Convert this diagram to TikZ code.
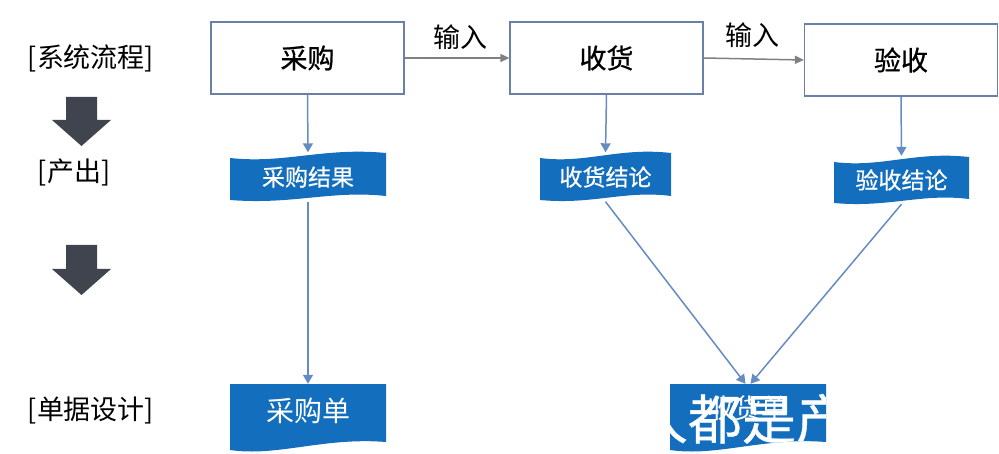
\documentclass[tikz,border=0pt]{standalone}
\usepackage{fontspec}
\setmainfont{Noto Sans CJK SC}
\usetikzlibrary{arrows.meta}
\definecolor{bannerblue}{RGB}{20,110,190}
\definecolor{boxline}{RGB}{105,128,168}
\definecolor{flowgray}{RGB}{128,128,128}
\definecolor{linkblue}{RGB}{100,140,195}
\definecolor{blockdark}{RGB}{64,68,78}
\newcommand\tapefill[4]{%
  \fill[bannerblue] (#1,#2+6) .. controls ({#1+0.35*(#3-#1)},#2+12) and ({#1+0.6*(#3-#1)},#2-5) .. (#3,#2+1)
    -- (#3,#4-5) .. controls ({#3-0.35*(#3-#1)},#4-11) and ({#3-0.6*(#3-#1)},#4+4) .. (#1,#4-1) -- cycle;}
\newcommand\docpath[4]{(#1,#2) -- (#3,#2) -- (#3,#4-9) .. controls ({#1+0.6*(#3-#1)},#4-14) and ({#1+0.3*(#3-#1)},#4+6) .. (#1,#4-1) -- cycle}
\tikzset{
  procbox/.style={draw=boxline, line width=1.2pt, fill=white, minimum width=193pt, minimum height=72pt, inner sep=0pt, font=\fontsize{27}{30}\selectfont\addfontfeature{FakeBold=0.8}},
  sidelabel/.style={inner sep=0pt, text=black, font=\fontsize{27}{30}\selectfont},
  inlabel/.style={inner sep=0pt, text=black, font=\fontsize{27}{30}\selectfont},
  bannertext/.style={inner sep=0pt, text=white, font=\fontsize{23}{26}\selectfont\addfontfeature{FakeBold=0.6}},
  doctext/.style={inner sep=0pt, text=white, font=\fontsize{28}{30}\selectfont},
  grayarrow/.style={draw=flowgray, line width=1.5pt, -{Triangle[width=8pt,length=9pt]}},
  bluearrow/.style={draw=linkblue, line width=1.5pt, -{Triangle[width=10pt,length=9pt]}},
  blockarrow/.style={fill=blockdark}
}
\begin{document}
\begin{tikzpicture}[x=1pt,y=-1pt]
\useasboundingbox (0,0) rectangle (999,454);

% left column
\node[sidelabel] (l1) at (91,58) {[系统流程]};
\node[sidelabel] (l2) at (74,172) {[产出]};
\node[sidelabel] (l3) at (91,410) {[单据设计]};
\fill[blockarrow] (66,97) -- (97,97) -- (97,120) -- (111,120) -- (81.5,146) -- (52,120) -- (66,120) -- cycle;
\fill[blockarrow] (66,245) -- (97,245) -- (97,269) -- (111,269) -- (81.5,295) -- (52,269) -- (66,269) -- cycle;

% process boxes
\node[procbox] (cg) at (307.5,58) {采购};
\node[procbox] (sh) at (606.5,58) {收货};
\node[procbox] (ys) at (901,60) {验收};

\draw[grayarrow] (cg.east) -- (sh.west);
\draw[grayarrow] (sh.east) -- (ys.west);
\node[inlabel] (in1) at (460,37) {输入};
\node[inlabel] (in2) at (752,35) {输入};

% banners
\tapefill{230}{152}{386}{201}
\tapefill{540}{152}{671}{201}
\tapefill{834}{156}{969}{204}
\node[bannertext, minimum width=156pt, minimum height=49pt] (cgjg) at (308,177) {采购结果};
\node[bannertext, minimum width=131pt, minimum height=49pt] (shjl) at (605.5,177) {收货结论};
\node[bannertext, minimum width=135pt, minimum height=48pt] (ysjl) at (901.5,180) {验收结论};

% documents
\fill[bannerblue] \docpath{230}{384}{386}{451};
\fill[bannerblue] \docpath{670}{384}{826}{451};
\node[doctext, minimum width=156pt, minimum height=54pt] (cgd) at (308,411) {采购单};
\node[doctext, minimum width=156pt, minimum height=48pt, font=\fontsize{27}{30}\selectfont] (shd) at (748,408) {收货单};
\begin{scope}
  \clip \docpath{670}{384}{826}{451};
  \node[inner sep=0pt, text=white, font=\fontsize{54}{56}\selectfont\addfontfeature{FakeBold=0.6}] (wm) at (742,419) {人都是产};
\end{scope}

% connectors
\draw[bluearrow] (cg.south) -- (cgjg.north);
\draw[bluearrow] (sh.south) -- (shjl.north);
\draw[bluearrow] (ys.south) -- (ysjl.north);
\draw[bluearrow] (cgjg.south) -- (cgd.north);
\draw[bluearrow] (shjl.south) -- ([xshift=-2.5pt]shd.north);
\draw[bluearrow] (ysjl.south) -- ([xshift=2.5pt]shd.north);
\end{tikzpicture}
\end{document}
